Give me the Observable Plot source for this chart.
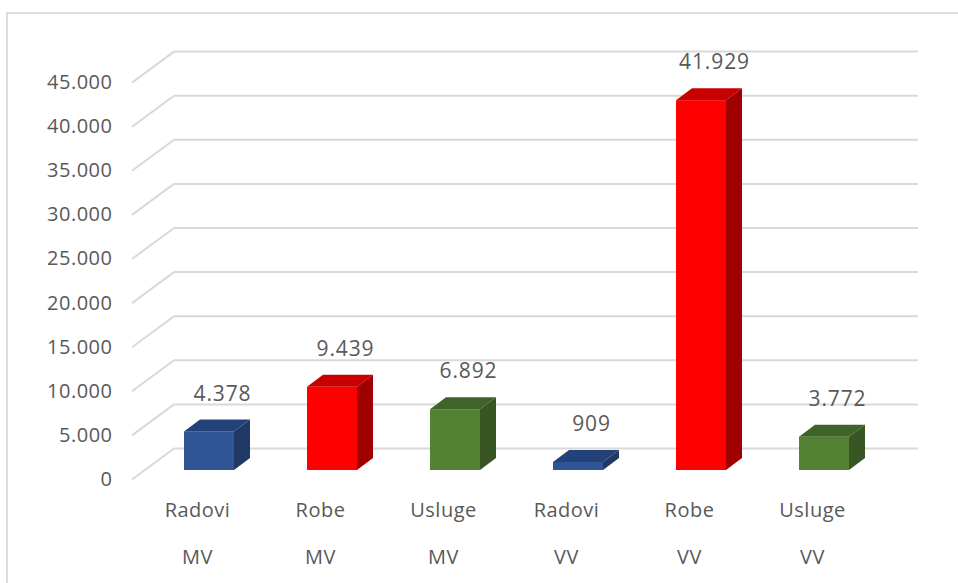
<!DOCTYPE html>
<html><head><meta charset="utf-8">
<script src="https://cdn.jsdelivr.net/npm/d3@7"></script>
<script src="https://cdn.jsdelivr.net/npm/@observablehq/plot@0.6"></script>
<style>
html,body{margin:0;padding:0;background:#fff;overflow:hidden;}
#wrap{position:relative;width:958px;height:583px;overflow:hidden;}
#border{position:absolute;left:6px;top:12px;width:1000px;height:1000px;border:2px solid #dcdcdc;box-sizing:border-box;pointer-events:none;}
#chart svg{display:block;}
#chart svg text{letter-spacing:0.5px;}
#chart svg g.vals text{letter-spacing:0.9px;}
</style></head><body>
<div id="wrap"><div id="chart"></div><div id="border"></div></div>
<script>
// ---- data ----
const categories = ["Radovi", "Robe", "Usluge", "Radovi", "Robe", "Usluge"];
const groups = ["MV", "MV", "MV", "VV", "VV", "VV"];
const values = [4378, 9439, 6892, 909, 41929, 3772];
const yTicks = [0, 5000, 10000, 15000, 20000, 25000, 30000, 35000, 40000, 45000];

// ---- styles ----
const palette = {
  Radovi: {front: "#2F5597", top: "#24427A", side: "#1F3864"},
  Robe:   {front: "#FF0000", top: "#C80000", side: "#A00000"},
  Usluge: {front: "#548235", top: "#3F6428", side: "#375623"}
};
const depth = {dx: 16, dy: -12};        // bar 3D depth (px)
const wall = {back: -22, label: 9, dx: -42}; // back wall offset / label offset (px)
const grid = "#d9d9d9";
const textColor = "#595959";

const data = categories.map((c, i) => ({key: c + " " + groups[i], cat: c, group: groups[i], value: values[i]}));
const keys = data.map(d => d.key);
const fmt = d3.formatLocale({decimal: ",", thousands: ".", grouping: [3], currency: ["", ""]}).format(",d");
const svgNS = "http://www.w3.org/2000/svg";

function poly(g, pts, fill) {
  const p = document.createElementNS(svgNS, "path");
  p.setAttribute("d", "M" + pts.map(q => q.join(",")).join("L") + "Z");
  p.setAttribute("fill", fill);
  g.appendChild(p);
}

const chart = Plot.plot({
  width: 958,
  height: 583,
  marginLeft: 174,
  marginRight: 40,
  marginTop: 40,
  marginBottom: 113,
  x: {type: "band", domain: keys, range: [145.6, 887.9], paddingInner: 0.596, paddingOuter: 0.298, axis: null},
  y: {domain: [0, 45000], range: [470, 73.1], axis: null},
  style: {fontFamily: "'Open Sans', sans-serif", fontSize: "20px", color: textColor, background: "transparent"},
  marks: [
    // back wall gridlines
    Plot.ruleY(yTicks, {y: d => d, dy: wall.back, stroke: grid, strokeWidth: 2}),
    // side wall diagonals
    Plot.ruleY(yTicks, {
      y: d => d, stroke: grid, strokeWidth: 2,
      render(index, scales, vals, dim, ctx, next) {
        const g = next(index, scales, vals, dim, ctx);
        g.querySelectorAll("line").forEach(l => {
          const y = +l.getAttribute("y1");
          l.setAttribute("x1", dim.marginLeft);
          l.setAttribute("y1", y + wall.back);
          l.setAttribute("x2", dim.marginLeft + wall.dx);
          l.setAttribute("y2", y + wall.label);
        });
        return g;
      }
    }),
    // 3D bars
    Plot.barY(data, {
      x: "key", y: "value", fill: d => palette[d.cat].front,
      render(index, scales, vals, dim, ctx, next) {
        const g = next(index, scales, vals, dim, ctx);
        const rects = Array.from(g.querySelectorAll("rect"));
        rects.forEach((r, j) => {
          const d = data[index[j]];
          const x = +r.getAttribute("x"), y = +r.getAttribute("y");
          const w = +r.getAttribute("width"), h = +r.getAttribute("height");
          const {dx, dy} = depth;
          poly(g, [[x, y], [x + w, y], [x + w + dx, y + dy], [x + dx, y + dy]], palette[d.cat].top);
          poly(g, [[x + w, y], [x + w + dx, y + dy], [x + w + dx, y + h + dy], [x + w, y + h]], palette[d.cat].side);
        });
        return g;
      }
    }),
    // value labels
    Plot.text(data, {x: "key", y: "value", text: d => fmt(d.value), dx: 13, dy: -38, fill: textColor, fontSize: 21, className: "vals"}),
    // y axis labels
    Plot.text(yTicks, {y: d => d, text: d => fmt(d), frameAnchor: "left", textAnchor: "end", dx: -62, dy: wall.label, fill: textColor, fontSize: 20}),
    // category labels
    Plot.text(data, {x: "key", y: () => 0, text: "cat", dx: -12, dy: 40, fill: textColor, fontSize: 20}),
    Plot.text(data, {x: "key", y: () => 0, text: "group", dx: -12, dy: 87, fill: textColor, fontSize: 20})
  ]
});
document.getElementById("chart").appendChild(chart);
</script>
</body></html>
